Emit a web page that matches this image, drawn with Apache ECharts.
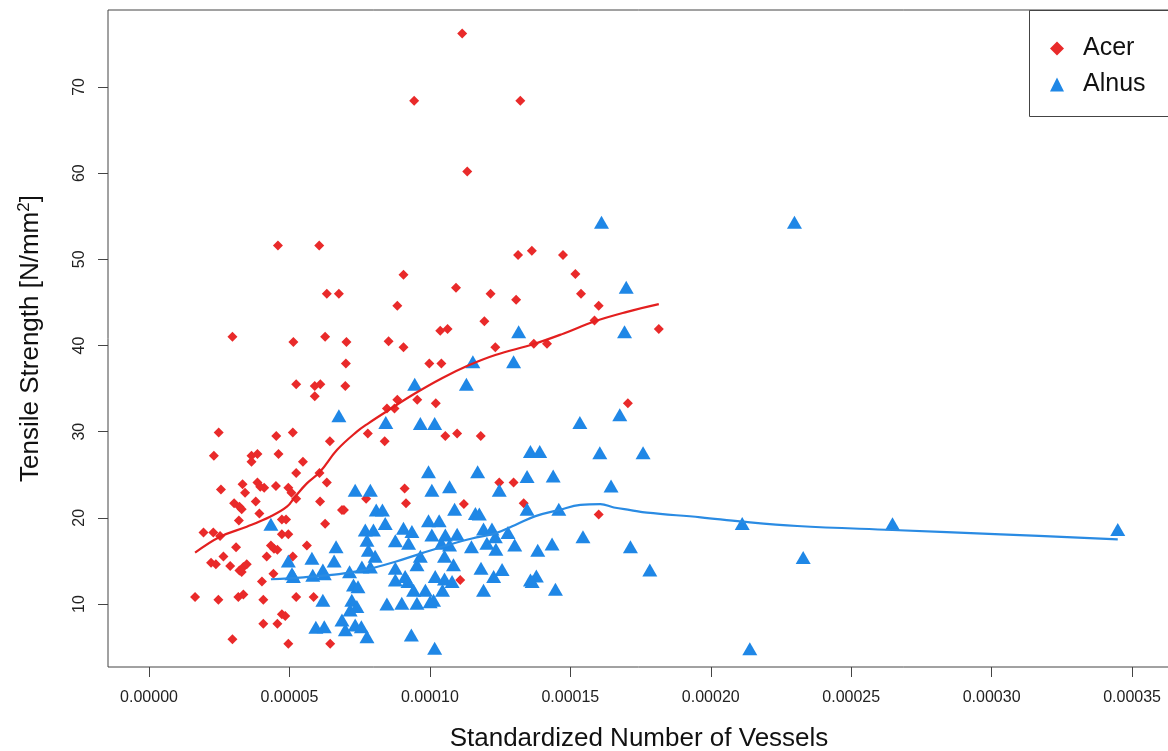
<!DOCTYPE html>
<html>
<head>
<meta charset="utf-8">
<title>Tensile Strength vs Standardized Number of Vessels</title>
<script src="https://cdn.jsdelivr.net/npm/echarts@6/dist/echarts.min.js"></script>
<style>
  html, body { margin: 0; padding: 0; background: #fff; }
  #chart { width: 1168px; height: 751px; }
</style>
</head>
<body>
<div id="chart"></div>
<script>
// Acer samples: [standardized number of vessels, tensile strength N/mm²]
const acerPoints = [
  [11.15e-5, 76.2], [9.44e-5, 68.4], [13.22e-5, 68.4], [11.33e-5, 60.2],
  [4.59e-5, 51.6], [6.06e-5, 51.6], [6.33e-5, 46.0], [6.76e-5, 46.0],
  [2.97e-5, 41.0], [5.14e-5, 40.4], [6.27e-5, 41.0], [7.03e-5, 40.4],
  [7.01e-5, 37.9], [5.24e-5, 35.5], [5.90e-5, 35.3], [6.10e-5, 35.5],
  [5.90e-5, 34.1], [6.99e-5, 35.3], [2.48e-5, 29.9], [4.53e-5, 29.5],
  [5.12e-5, 29.9], [6.44e-5, 28.9], [2.31e-5, 27.2], [3.65e-5, 27.2],
  [3.86e-5, 27.4], [3.65e-5, 26.5], [4.61e-5, 27.4], [5.48e-5, 26.5],
  [5.24e-5, 25.2], [6.07e-5, 25.2], [6.33e-5, 24.1], [2.56e-5, 23.3],
  [3.33e-5, 23.9], [3.42e-5, 22.9], [3.86e-5, 24.1], [3.96e-5, 23.6],
  [4.10e-5, 23.5], [4.52e-5, 23.7], [4.96e-5, 23.5], [5.07e-5, 22.9],
  [5.24e-5, 22.2], [3.80e-5, 21.9], [3.03e-5, 21.7], [3.22e-5, 21.3],
  [3.30e-5, 21.0], [3.93e-5, 20.5], [6.09e-5, 21.9], [6.87e-5, 20.9],
  [6.94e-5, 20.9], [3.20e-5, 19.7], [4.73e-5, 19.8], [4.88e-5, 19.8],
  [6.27e-5, 19.3], [1.94e-5, 18.3], [2.29e-5, 18.3], [2.53e-5, 17.9],
  [4.73e-5, 18.1], [4.96e-5, 18.1], [3.10e-5, 16.6], [4.34e-5, 16.8],
  [4.45e-5, 16.4], [4.57e-5, 16.3], [5.62e-5, 16.8], [2.65e-5, 15.5],
  [4.19e-5, 15.5], [2.21e-5, 14.8], [2.38e-5, 14.6], [2.89e-5, 14.4],
  [3.22e-5, 13.9], [3.36e-5, 14.3], [3.48e-5, 14.6], [3.30e-5, 13.7],
  [4.43e-5, 13.5], [5.12e-5, 15.5], [4.02e-5, 12.6], [1.64e-5, 10.8],
  [2.47e-5, 10.5], [3.18e-5, 10.8], [3.36e-5, 11.1], [4.07e-5, 10.5],
  [5.24e-5, 10.8], [5.86e-5, 10.8], [4.73e-5, 8.8], [4.85e-5, 8.6],
  [4.07e-5, 7.7], [4.57e-5, 7.7], [2.97e-5, 5.9], [4.96e-5, 5.4],
  [6.45e-5, 5.4], [7.79e-5, 29.8], [8.39e-5, 28.9], [10.55e-5, 29.5],
  [10.97e-5, 29.8], [11.81e-5, 29.5], [12.47e-5, 24.1], [12.98e-5, 24.1],
  [9.10e-5, 23.4], [7.73e-5, 22.2], [9.15e-5, 21.7], [11.21e-5, 21.6],
  [13.34e-5, 21.7], [11.08e-5, 12.8], [16.01e-5, 20.4], [13.14e-5, 50.5],
  [13.63e-5, 51.0], [9.06e-5, 48.2], [10.93e-5, 46.7], [12.16e-5, 46.0],
  [13.07e-5, 45.3], [8.84e-5, 44.6], [10.37e-5, 41.7], [10.63e-5, 41.9],
  [11.94e-5, 42.8], [8.53e-5, 40.5], [9.06e-5, 39.8], [12.33e-5, 39.8],
  [13.70e-5, 40.2], [9.98e-5, 37.9], [10.41e-5, 37.9], [8.84e-5, 33.7],
  [8.47e-5, 32.7], [8.74e-5, 32.7], [9.55e-5, 33.7], [10.21e-5, 33.3],
  [14.74e-5, 50.5], [15.18e-5, 48.3], [15.38e-5, 46.0], [16.01e-5, 44.6],
  [15.86e-5, 42.9], [18.15e-5, 41.9], [14.17e-5, 40.2], [17.05e-5, 33.3]
];

// Alnus samples: [standardized number of vessels, tensile strength N/mm²]
const alnusPoints = [
  [6.76e-5, 31.85], [13.16e-5, 41.6], [11.53e-5, 38.1], [12.98e-5, 38.1],
  [9.46e-5, 35.5], [11.30e-5, 35.5], [8.43e-5, 31.05], [9.66e-5, 30.95],
  [10.17e-5, 30.95], [16.99e-5, 46.75], [16.93e-5, 41.6], [15.34e-5, 31.05],
  [16.76e-5, 31.95], [16.11e-5, 54.3], [22.98e-5, 54.3], [21.12e-5, 19.35],
  [26.47e-5, 19.3], [34.49e-5, 18.65], [23.29e-5, 15.4], [21.39e-5, 4.8],
  [7.34e-5, 23.2], [4.34e-5, 19.25], [6.66e-5, 16.65], [4.96e-5, 15.0],
  [5.80e-5, 15.3], [6.59e-5, 15.0], [5.09e-5, 13.5], [5.14e-5, 13.2],
  [5.83e-5, 13.35], [6.19e-5, 13.95], [6.24e-5, 13.5], [7.14e-5, 13.75],
  [7.28e-5, 12.2], [6.19e-5, 10.45], [7.22e-5, 10.45], [7.16e-5, 9.3],
  [6.87e-5, 8.15], [5.94e-5, 7.3], [6.24e-5, 7.35], [6.99e-5, 7.0],
  [7.34e-5, 7.55], [13.58e-5, 27.7], [9.95e-5, 25.35], [11.70e-5, 25.35],
  [13.46e-5, 24.8], [7.88e-5, 23.2], [10.07e-5, 23.2], [10.70e-5, 23.6],
  [12.47e-5, 23.2], [8.09e-5, 20.9], [8.31e-5, 20.9], [10.88e-5, 21.0],
  [11.62e-5, 20.5], [11.76e-5, 20.45], [13.46e-5, 21.0], [8.41e-5, 19.35],
  [9.95e-5, 19.65], [10.33e-5, 19.65], [7.70e-5, 18.6], [7.99e-5, 18.6],
  [9.06e-5, 18.8], [9.36e-5, 18.4], [10.07e-5, 18.0], [10.55e-5, 18.0],
  [10.97e-5, 18.1], [11.91e-5, 18.7], [12.21e-5, 18.7], [12.78e-5, 18.3],
  [7.76e-5, 17.4], [8.77e-5, 17.35], [9.24e-5, 17.05], [10.41e-5, 17.05],
  [10.70e-5, 16.85], [12.03e-5, 17.05], [12.33e-5, 17.8], [13.02e-5, 16.85],
  [7.81e-5, 16.25], [8.05e-5, 15.55], [9.66e-5, 15.55], [10.52e-5, 15.55],
  [11.48e-5, 16.65], [12.35e-5, 16.35], [7.58e-5, 14.3], [7.88e-5, 14.3],
  [8.77e-5, 14.15], [9.54e-5, 14.55], [10.84e-5, 14.55], [11.82e-5, 14.15],
  [12.57e-5, 14.0], [12.27e-5, 13.2], [13.58e-5, 12.8], [8.77e-5, 12.8],
  [9.12e-5, 13.2], [9.22e-5, 12.6], [10.19e-5, 13.2], [10.52e-5, 12.9],
  [10.79e-5, 12.6], [7.44e-5, 12.0], [9.42e-5, 11.6], [9.84e-5, 11.6],
  [10.45e-5, 11.6], [11.91e-5, 11.6], [8.47e-5, 10.0], [9.00e-5, 10.1],
  [9.54e-5, 10.1], [10.01e-5, 10.25], [10.13e-5, 10.45], [7.40e-5, 9.7],
  [7.56e-5, 7.35], [7.76e-5, 6.2], [9.34e-5, 6.4], [10.17e-5, 4.86],
  [13.91e-5, 27.7], [16.05e-5, 27.55], [17.59e-5, 27.55], [14.39e-5, 24.85],
  [16.45e-5, 23.7], [14.59e-5, 21.0], [15.45e-5, 17.8], [14.35e-5, 16.95],
  [13.84e-5, 16.25], [17.14e-5, 16.65], [13.79e-5, 13.25], [13.64e-5, 12.6],
  [17.83e-5, 13.95], [14.47e-5, 11.7]
];

// Smoothed (loess) trend for Acer
const acerTrend = [
  [1.64e-5, 15.95], [2.53e-5, 17.8], [3.48e-5, 18.97], [4.31e-5, 20.13],
  [4.91e-5, 21.29], [5.20e-5, 22.45], [5.62e-5, 24.0], [6.09e-5, 25.35],
  [6.69e-5, 27.87], [7.40e-5, 30.0], [7.81e-5, 30.97], [8.53e-5, 32.5],
  [9.48e-5, 34.45], [10.43e-5, 36.2], [11.38e-5, 37.7], [12.33e-5, 38.9],
  [13.70e-5, 40.17], [14.77e-5, 41.4], [15.83e-5, 42.76], [17.02e-5, 43.9],
  [18.15e-5, 44.8]
];

// Smoothed (loess) trend for Alnus
const alnusTrend = [
  [4.34e-5, 12.87], [5.50e-5, 13.1], [6.60e-5, 13.4], [7.34e-5, 13.75],
  [7.94e-5, 14.15], [8.77e-5, 14.9], [9.72e-5, 15.9], [10.66e-5, 16.85],
  [11.50e-5, 17.6], [12.33e-5, 18.2], [13.04e-5, 19.17], [13.76e-5, 20.2],
  [14.59e-5, 20.9], [15.36e-5, 21.5], [16.07e-5, 21.6], [16.55e-5, 21.2],
  [17.14e-5, 20.9], [17.73e-5, 20.6], [19.64e-5, 20.06], [21.12e-5, 19.55],
  [23.08e-5, 19.05], [26.47e-5, 18.59], [30.33e-5, 18.09], [34.49e-5, 17.5]
];

// Tick positions shown on each axis
const xTicks = [0, 0.00005, 0.00010, 0.00015, 0.00020, 0.00025, 0.00030, 0.00035];
const yTicks = [10, 20, 30, 40, 50, 60, 70];

const FONT = 'Liberation Sans, Arial, Helvetica, sans-serif';
const RED = '#E92A2A';
const RED_LINE = '#E31F1F';
const BLUE = '#1F87E6';
const BLUE_LINE = '#2A8BE3';

const chart = echarts.init(document.getElementById('chart'), null, { renderer: 'canvas' });

chart.setOption({
  animation: false,
  backgroundColor: '#ffffff',
  textStyle: { fontFamily: FONT },
  grid: {
    left: 108, top: 10, width: 1062, bottom: 84,
    outerBoundsMode: 'none', containLabel: false,
    show: true, borderColor: '#444', borderWidth: 1, backgroundColor: 'transparent'
  },
  xAxis: {
    type: 'value',
    min: -0.0000146, max: 0.0003635,
    splitLine: { show: false },
    axisLine: { show: false, onZero: false },
    axisTick: { show: true, inside: false, length: 10, customValues: xTicks, lineStyle: { color: '#444' } },
    axisLabel: {
      customValues: xTicks, margin: 23, fontSize: 16, color: '#222', fontFamily: FONT,
      formatter: v => v.toFixed(5)
    },
    name: 'Standardized Number of Vessels',
    nameLocation: 'middle', nameGap: 59,
    nameTextStyle: { fontSize: 26, color: '#111', fontFamily: FONT }
  },
  yAxis: {
    type: 'value',
    min: 2.69, max: 78.93,
    splitLine: { show: false },
    axisLine: { show: false, onZero: false },
    axisTick: { show: true, inside: false, length: 10, customValues: yTicks, lineStyle: { color: '#444' } },
    axisLabel: {
      customValues: yTicks, margin: 20, fontSize: 16, color: '#222', fontFamily: FONT,
      rotate: 90
    },
    name: '{a|Tensile Strength [N/mm}{s|2}{a|]}',
    nameLocation: 'middle', nameGap: 62, nameRotate: 90,
    nameTextStyle: {
      color: '#111', fontFamily: FONT,
      rich: {
        a: { fontSize: 26, color: '#111', fontFamily: FONT, lineHeight: 30 },
        s: { fontSize: 17, color: '#111', fontFamily: FONT, verticalAlign: 'top', lineHeight: 30 }
      }
    }
  },
  legend: {
    data: [{ name: 'Acer', icon: 'diamond' }, { name: 'Alnus', icon: 'triangle' }],
    orient: 'vertical',
    left: 1050, top: 36,
    itemWidth: 14, itemHeight: 14, itemGap: 11,
    padding: 0,
    textStyle: { fontSize: 25, color: '#111', fontFamily: FONT, padding: [0, 0, 0, 14] }
  },
  graphic: [{
    type: 'rect',
    shape: { x: 1029.5, y: 10.5, width: 200, height: 106 },
    style: { fill: 'none', stroke: '#444', lineWidth: 1 },
    z: 10
  }],
  series: [
    {
      name: 'Acer', type: 'scatter', data: acerPoints,
      symbol: 'diamond', symbolSize: [10, 10],
      itemStyle: { color: RED, opacity: 1 }, z: 2
    },
    {
      name: 'Alnus', type: 'scatter', data: alnusPoints,
      symbol: 'triangle', symbolSize: [15, 13],
      itemStyle: { color: BLUE, opacity: 1 }, z: 3
    },
    {
      name: 'Acer trend', type: 'line', data: acerTrend,
      showSymbol: false, smooth: 0.4,
      lineStyle: { color: RED_LINE, width: 2.2 }, z: 4
    },
    {
      name: 'Alnus trend', type: 'line', data: alnusTrend,
      showSymbol: false, smooth: 0.4,
      lineStyle: { color: BLUE_LINE, width: 2.2 }, z: 5
    }
  ]
});
</script>
</body>
</html>
